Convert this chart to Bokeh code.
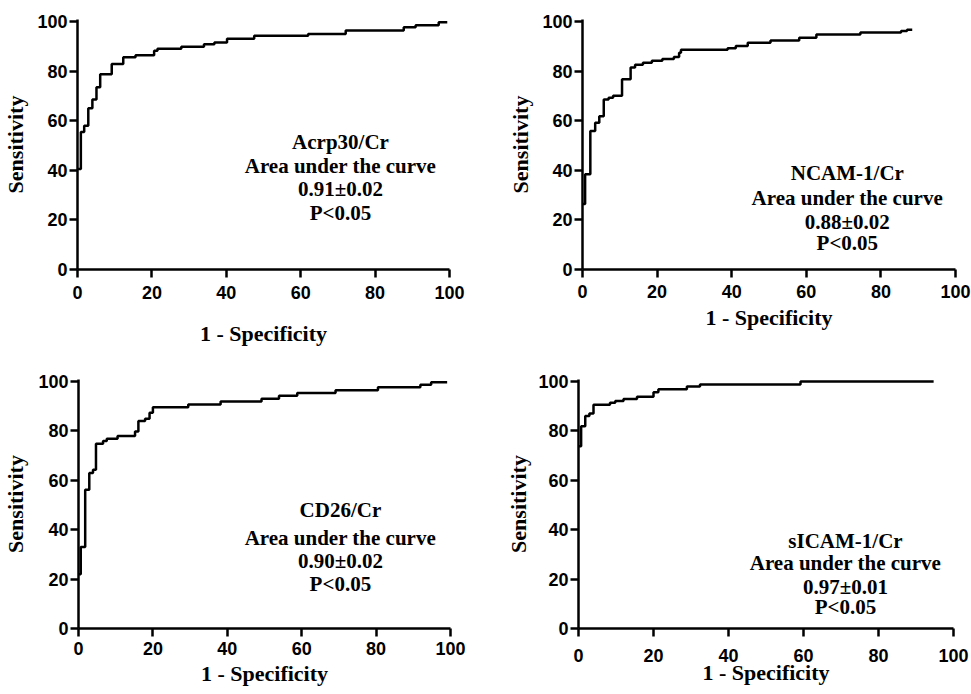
from bokeh.plotting import figure
from bokeh.models import Range1d, FixedTicker, Label
from bokeh.layouts import column, row
from bokeh.embed import file_html
from bokeh.resources import INLINE

# ---------------- data ----------------
TICKS = [0, 20, 40, 60, 80, 100]
X_TITLE = "1 - Specificity"
Y_TITLE = "Sensitivity"

ACRP_FPR = [0, 0.9, 1.8, 2.9, 4.0, 5.1, 6.1, 9.2, 12.3, 15.6, 20.6, 21.5, 27.9, 34.0,
            36.8, 40.2, 47.5, 62.0, 72.1, 87.7, 90.9, 97.1, 99.4]
ACRP_SENS = [40.5, 55.4, 58.0, 65.0, 68.5, 73.5, 78.7, 82.9, 85.6, 86.4, 88.2, 89.0, 89.8,
             90.8, 91.5, 93.0, 94.2, 95.0, 96.4, 97.7, 98.5, 99.7, 99.7]
ACRP_TEXT = ["Acrp30/Cr", "Area under the curve", "0.91\u00b10.02", "P<0.05"]

NCAM_FPR = [0, 0.7, 2.1, 3.4, 4.5, 5.7, 7.0, 8.2, 10.6, 12.9, 14.1, 16.2, 18.6, 21.4,
            24.5, 25.9, 26.4, 38.9, 41.1, 44.3, 50.4, 58.1, 62.7, 74.5, 85.4, 87.0, 88.4]
NCAM_SENS = [26.4, 38.4, 55.8, 59.2, 61.8, 68.5, 69.3, 70.1, 76.7, 81.4, 82.6, 83.4, 84.2,
             84.9, 85.7, 87.4, 88.6, 89.2, 90.1, 91.4, 92.3, 93.4, 94.8, 95.6, 96.2, 96.7, 96.7]
NCAM_TEXT = ["NCAM-1/Cr", "Area under the curve", "0.88\u00b10.02", "P<0.05"]

CD26_FPR = [0, 0.6, 1.8, 2.9, 3.9, 4.7, 6.6, 7.6, 10.5, 15.2, 16.1, 17.9, 19.1, 20.0,
            29.5, 38.2, 49.2, 53.9, 58.8, 69.1, 80.5, 91.9, 94.8, 99.1]
CD26_SENS = [22.0, 33.0, 56.2, 62.9, 64.3, 74.8, 75.9, 76.8, 77.9, 79.8, 84.0, 84.9, 87.3,
             89.6, 90.7, 91.9, 93.0, 94.2, 95.3, 96.4, 97.7, 98.7, 99.7, 99.7]
CD26_TEXT = ["CD26/Cr", "Area under the curve", "0.90\u00b10.02", "P<0.05"]

SICAM_FPR = [0, 0.7, 1.8, 2.9, 4.0, 8.4, 9.8, 12.0, 15.6, 20.0, 21.3, 28.9, 32.4, 59.2, 94.7]
SICAM_SENS = [73.8, 81.9, 86.0, 87.0, 90.6, 91.4, 92.1, 92.9, 93.8, 95.6, 96.9, 98.0, 98.8,
              100.0, 100.0]
SICAM_TEXT = ["sICAM-1/Cr", "Area under the curve", "0.97\u00b10.01", "P<0.05"]

SERIF = "Liberation Serif"
SANS = "Liberation Sans"


def panel(fpr, sens, texts, text_x, text_y, w, h, borders, xl_standoff, xt_standoff,
          yl_standoff):
    left, right, top, bottom = borders
    p = figure(width=w, height=h, output_backend="svg", toolbar_location=None,
               x_range=Range1d(0, 100), y_range=Range1d(0, 100.8),
               min_border_left=left, min_border_right=right,
               min_border_top=top, min_border_bottom=bottom)
    p.outline_line_color = None
    p.grid.visible = False
    p.background_fill_color = "white"
    p.border_fill_color = "white"
    p.step(fpr, sens, mode="after", line_width=2.5, line_color="black")
    for ax in (p.xaxis[0], p.yaxis[0]):
        ax.ticker = FixedTicker(ticks=TICKS)
        ax.axis_line_width = 2.5
        ax.axis_line_color = "black"
        ax.major_tick_line_width = 2.5
        ax.major_tick_line_color = "black"
        ax.major_tick_out = 8
        ax.major_tick_in = 0
        ax.minor_tick_line_color = None
        ax.major_label_text_font = SANS
        ax.major_label_text_font_style = "bold"
        ax.major_label_text_font_size = "18px"
        ax.major_label_text_color = "black"
        ax.axis_label_text_font = SERIF
        ax.axis_label_text_font_style = "bold"
        ax.axis_label_text_font_size = "22px"
        ax.axis_label_text_color = "black"
    p.xaxis.axis_label = X_TITLE
    p.xaxis.axis_label_standoff = xl_standoff
    p.yaxis.axis_label = Y_TITLE
    p.xaxis.major_label_standoff = xt_standoff
    p.yaxis.major_label_standoff = 2
    p.yaxis.axis_label_standoff = yl_standoff
    for t, yy in zip(texts, text_y):
        p.add_layout(Label(x=text_x, y=yy, text=t, text_align="center",
                           text_baseline="middle", text_font=SERIF,
                           text_font_style="bold", text_font_size="21px",
                           text_color="black"))
    return p


p1 = panel(ACRP_FPR, ACRP_SENS, ACRP_TEXT, 70.7, [51.6, 41.9, 32.3, 22.6],
           498, 350, (77, 49, 19, 81), 19, 8, 6)
p2 = panel(NCAM_FPR, NCAM_SENS, NCAM_TEXT, 71.0, [39.0, 28.9, 19.3, 10.8],
           473, 350, (84, 16, 19, 80), 4, 7, 6)
p3 = panel(CD26_FPR, CD26_SENS, CD26_TEXT, 70.4, [47.8, 36.8, 27.5, 18.2],
           498, 344, (78, 48, 29, 66), 3, 5, 7)
p4 = panel(SICAM_FPR, SICAM_SENS, SICAM_TEXT, 71.2, [35.5, 26.6, 16.9, 8.9],
           473, 344, (80, 18, 29, 65), -5, 12, 4)

layout = column(row(p1, p2, spacing=0), row(p3, p4, spacing=0), spacing=0)

open("out.html", "w").write(file_html(layout, INLINE))
